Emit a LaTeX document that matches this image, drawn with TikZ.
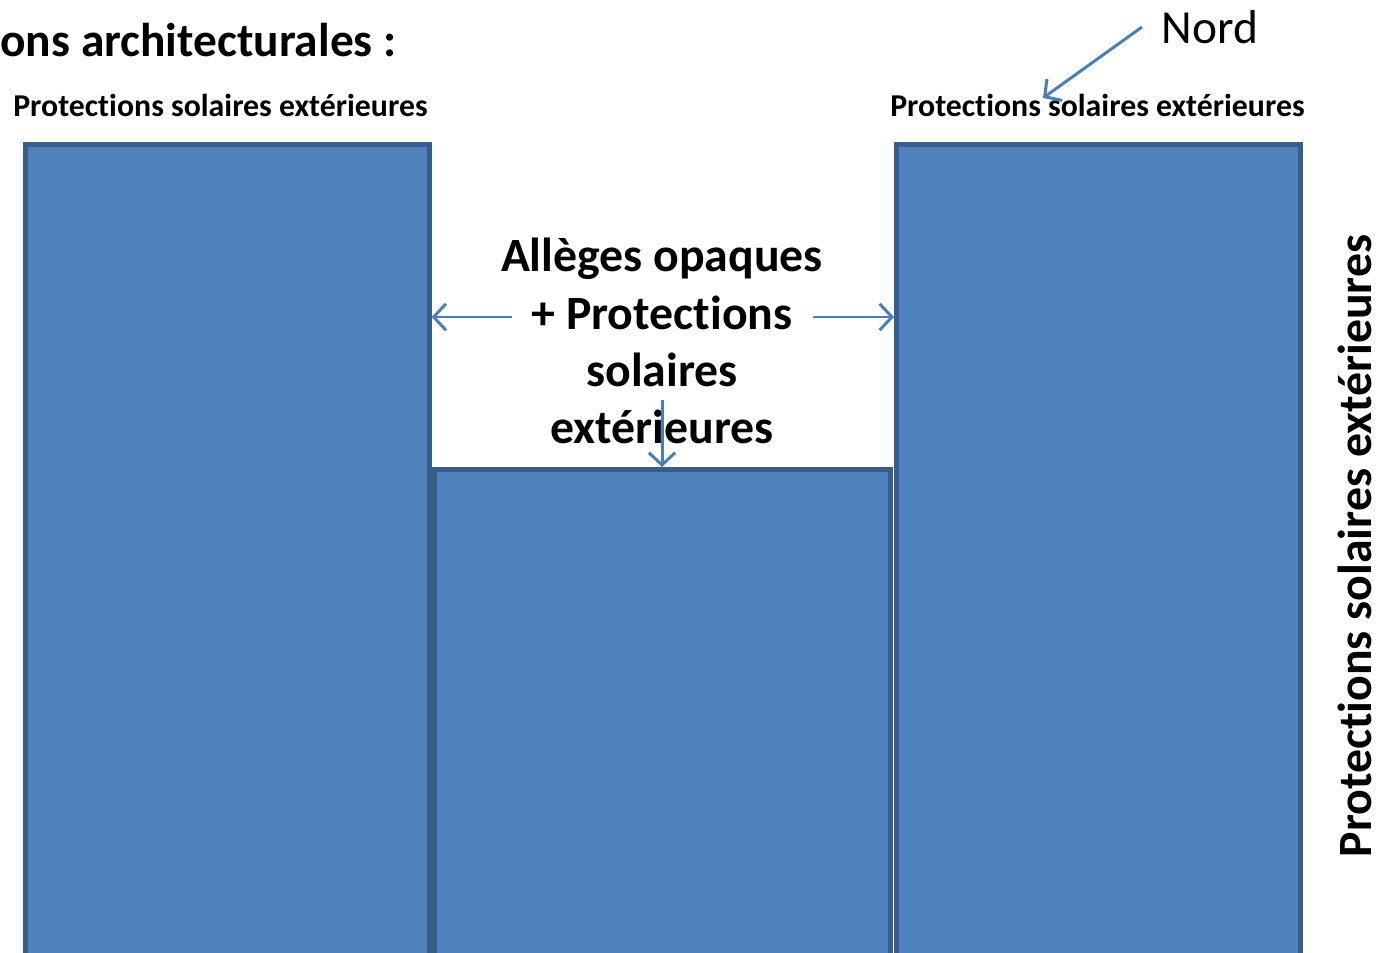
\documentclass[tikz,border=0pt]{standalone}
\usepackage{fontspec}
\setmainfont[Ligatures=NoCommon]{Carlito}
\definecolor{wallblue}{HTML}{4F81BD}
\definecolor{wallline}{HTML}{385D8A}
\definecolor{arrblue}{HTML}{4A7EBB}
\usetikzlibrary{arrows.meta,positioning,calc}
\tikzset{
  wall/.style={fill=wallblue, draw=wallline, line width=2.6pt, anchor=north west, inner sep=0pt},
  lbl/.style={font=\fontsize{18.1}{21}\selectfont\bfseries, inner sep=0pt},
  big/.style={font=\fontsize{27.2}{32.5}\selectfont\bfseries, inner sep=0pt},
  arr/.style={draw=arrblue, line width=1.7pt, -{Straight Barb[length=7pt,width=15pt,line width=1.7pt]}}
}

\begin{document}
\begin{tikzpicture}
  \useasboundingbox (0,0) rectangle (27.68,19.04);

  % Walls
  \node[wall, minimum width=8.08cm, minimum height=16.4cm] (lwall) at (0.46,16.2) {};
  \node[wall, minimum width=9.12cm, minimum height=10.0cm] (mwall) at (8.64,9.7) {};
  \node[wall, minimum width=8.08cm, minimum height=16.4cm] (rwall) at (17.88,16.2) {};

  % Labels
  \node[font=\fontsize{27}{30}\selectfont\bfseries, anchor=east, inner sep=0pt] (title) at (7.94,18.24) {ons architecturales :};
  \node[lbl] (ltop) at (4.41,16.94) {Protections solaires extérieures};
  \node[lbl] (rtop) at (21.95,16.94) {Protections solaires extérieures};
  \node[font=\fontsize{27}{30}\selectfont, inner sep=0pt] (nord) at (24.2,18.5) {Nord};
  \node[big, rotate=90] (side) at (27.1,8.12) {Protections solaires extérieures};
  \node[big, align=center] (allege) at (13.24,12.22) {Allèges opaques\\+ Protections\\solaires\\extérieures};

  % Arrows
  \coordinate (aleft) at (10.24,12.7);
  \coordinate (aright) at (16.26,12.7);
  \coordinate (adown) at (13.24,11.04);
  \coordinate (anord) at (22.84,18.5);
  \draw[arr] (aleft) -- (aleft -| lwall.east);
  \draw[arr] (aright) -- (aright -| rwall.west);
  \draw[arr] (adown) -- (adown |- mwall.north);
  \draw[arr] (anord) -- (20.86,17.08);
\end{tikzpicture}
\end{document}
